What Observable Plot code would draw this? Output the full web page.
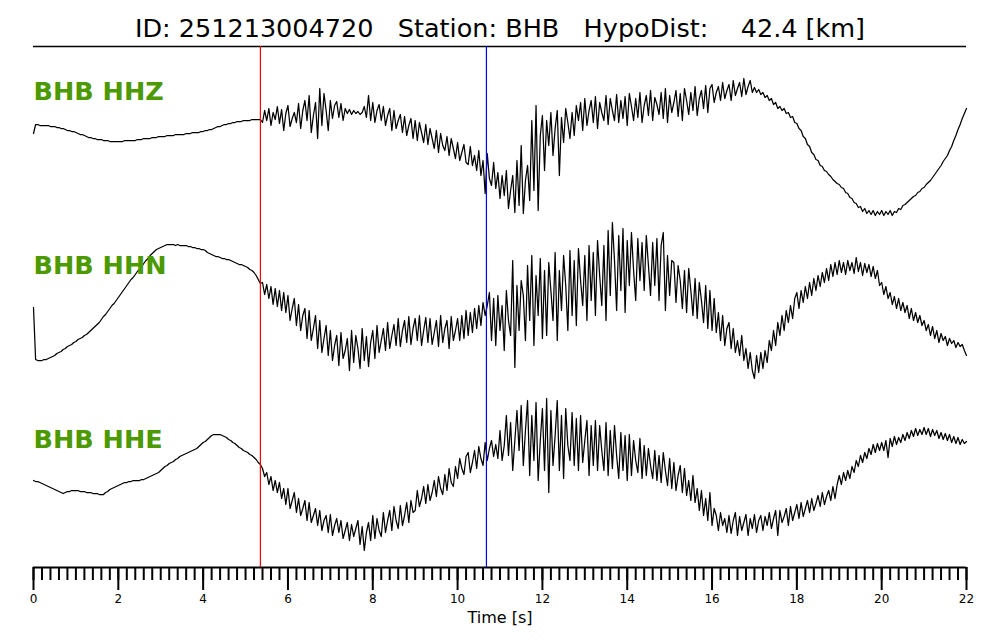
<!DOCTYPE html>
<html><head><meta charset="utf-8">
<script src="https://cdn.jsdelivr.net/npm/d3@7"></script>
<script src="https://cdn.jsdelivr.net/npm/@observablehq/plot@0.6"></script>
<style>
html,body{margin:0;padding:0;background:#fff;}
svg text{white-space:pre;}
</style></head><body><div id="chart"></div>
<script>
const title = "ID: 251213004720   Station: BHB   HypoDist:    42.4 [km]";
const channels = ["BHB HHZ", "BHB HHN", "BHB HHE"];
const sampleInterval = 0.05; // seconds between samples
const pickP = 5.35;
const pickS = 10.68;
const majorTicks = [0, 2, 4, 6, 8, 10, 12, 14, 16, 18, 20, 22];
const timeLabel = "Time [s]";

// amplitudes (arbitrary units, up positive), one row = 1 s
const hhz = [
17,26,26,25,25,25,25,25,24,24,24,23,23,22,22,21,20,20,19,19,
18,17,16,16,15,14,13,13,12,12,11,11,11,10,10,10,9,9,9,9,
9,9,9,10,10,10,10,10,10,11,11,11,12,12,12,12,13,13,13,14,
14,14,14,15,15,15,15,16,16,16,16,16,17,17,17,18,18,18,18,19,
19,20,20,21,21,22,23,24,24,25,26,26,27,27,28,28,29,29,29,30,
30,30,30,31,31,31,31,31,28,40,30,42,25,38,31,44,27,41,20,37,
45,24,32,38,28,47,22,40,50,30,55,18,35,48,12,62,25,57,40,20,
50,32,45,49,33,47,30,42,37,41,36,40,37,39,36,38,44,33,55,30,
48,28,40,46,30,44,25,35,42,20,40,22,30,36,18,34,15,25,32,12,
30,10,28,18,8,26,6,22,12,2,20,-2,17,5,0,14,-5,12,2,-8,
8,-10,-2,6,-12,-14,4,-15,-5,-20,0,-25,-10,-43,-3,-28,-35,-12,-38,-22,
-48,-25,-45,-20,-58,-40,-25,-62,-10,-55,5,-63,-30,-15,-50,30,-40,45,-60,15,
35,-20,30,5,38,-5,22,40,-25,33,8,42,28,12,38,15,45,30,48,20,
52,25,40,50,28,54,22,48,38,30,55,26,52,40,30,56,28,50,32,54,
25,57,44,30,52,33,58,28,45,55,35,60,30,53,46,36,58,32,62,28,
55,38,48,60,34,57,30,62,50,36,58,40,64,35,52,60,42,65,38,62,
66,48,58,64,50,68,52,60,66,50,70,55,62,68,54,72,56,64,70,58,
63,58,61,56,58,53,55,50,52,46,48,42,44,40,42,37,38,33,34,28,
27,22,20,14,12,6,4,-2,-4,-9,-10,-15,-16,-20,-21,-24,-26,-29,-31,-33,
-34,-37,-38,-42,-43,-47,-48,-52,-53,-57,-56,-61,-58,-63,-60,-64,-60,-65,-61,-64,
-60,-65,-61,-64,-60,-65,-61,-62,-58,-59,-55,-54,-52,-50,-48,-46,-45,-42,-41,-38,
-37,-34,-32,-30,-27,-24,-21,-18,-15,-11,-8,-5,0,4,10,15,21,26,32,37,
42];

const hhn = [
-7,-59,-60,-60,-60,-59,-59,-58,-57,-56,-55,-53,-52,-51,-49,-48,-46,-45,-44,-42,
-41,-39,-38,-37,-35,-34,-32,-30,-28,-26,-24,-22,-19,-16,-14,-11,-8,-5,-3,0,
3,6,9,12,15,18,21,23,26,29,31,34,37,40,42,45,47,49,51,52,
53,54,55,56,56,56,56,55,56,55,55,55,55,54,54,53,53,52,52,51,
51,50,48,47,46,45,44,44,43,42,42,41,41,40,39,38,37,36,36,35,
34,33,31,30,28,25,21,17,18,6,16,2,14,-4,12,-6,10,-10,8,-12,
5,-20,-8,2,-25,-4,-30,-15,-8,-38,-10,-40,-28,-15,-48,-20,-52,-38,-25,-55,
-30,-60,-45,-35,-65,-32,-58,-50,-38,-70,-30,-62,-35,-48,-68,-28,-60,-36,-66,-42,
-30,-58,-25,-52,-40,-28,-50,-22,-48,-35,-24,-45,-18,-46,-30,-20,-42,-16,-44,-28,
-18,-40,-15,-45,-30,-17,-42,-18,-44,-32,-20,-46,-15,-42,-28,-20,-48,-16,-40,-30,
-18,-40,-15,-38,-10,-35,-12,-32,-8,-28,-5,-25,-2,-15,-5,8,-40,2,-45,5,
-30,-5,-50,10,-20,-35,40,-67,15,-30,20,5,-40,35,-20,45,-45,25,-15,42,
-38,30,-35,38,10,-20,48,-40,30,-10,45,15,-30,50,-15,40,-25,52,20,-5,
45,-20,55,0,48,-15,60,25,-5,55,-20,70,5,78,40,-10,65,10,72,-12,
60,15,68,30,0,62,20,58,10,65,35,5,58,15,62,0,55,68,-10,45,
5,40,38,-2,35,20,-8,30,-12,32,10,-15,22,-18,18,0,-22,15,-28,10,
-30,2,-32,-12,-40,-15,-45,-28,-22,-48,-28,-52,-40,-55,-35,-60,-48,-68,-52,-70,
-78,-55,-72,-52,-68,-50,-62,-40,-50,-30,-45,-22,-35,-15,-30,-10,-22,-5,-18,2,
8,-8,10,-2,14,2,18,5,22,10,25,14,28,18,32,20,36,24,38,26,
40,28,38,26,40,30,38,27,43,29,38,25,37,28,36,24,34,22,30,15,
18,6,14,2,8,-4,4,-8,2,-10,-2,-12,-5,-18,-8,-20,-12,-22,-15,-25,
-20,-30,-24,-35,-26,-38,-30,-42,-33,-40,-36,-45,-38,-43,-40,-47,-42,-46,-44,-50,
-55];

const hhe = [
-10,-11,-11,-12,-13,-14,-15,-16,-17,-18,-19,-20,-21,-22,-23,-22,-21,-21,-20,-20,
-20,-20,-21,-21,-21,-22,-22,-22,-23,-23,-23,-24,-24,-24,-22,-21,-19,-18,-17,-16,
-15,-14,-13,-12,-12,-11,-11,-10,-10,-10,-10,-9,-9,-8,-7,-6,-5,-4,-3,-2,
0,2,4,5,7,8,9,11,12,14,15,16,17,18,19,20,21,22,24,26,
28,29,31,33,35,36,36,36,36,35,34,33,31,30,28,27,25,23,22,20,
19,18,16,15,13,11,8,6,2,-6,-2,-14,-6,-20,-10,-22,-12,-28,-18,-34,
-18,-38,-30,-22,-42,-28,-45,-38,-30,-50,-32,-52,-45,-38,-55,-40,-60,-50,-45,-62,
-44,-65,-55,-48,-62,-50,-68,-60,-52,-70,-54,-66,-58,-50,-74,-56,-80,-62,-52,-70,
-45,-68,-48,-60,-66,-42,-62,-50,-40,-60,-36,-50,-58,-35,-55,-45,-32,-52,-30,-42,
-40,-20,-36,-28,-16,-33,-14,-30,-22,-10,-26,-6,-18,-24,-4,-20,2,-12,-16,4,
-8,12,2,-4,14,18,-2,8,20,2,24,12,5,28,10,22,30,14,26,12,
40,10,25,55,15,48,0,30,60,20,65,5,40,70,-5,55,10,68,-10,30,
62,0,72,-22,60,5,35,70,0,55,-8,62,25,10,58,5,52,0,55,8,
30,50,-5,45,5,50,0,45,20,0,48,-5,40,2,45,15,-8,38,0,35,
-10,36,-5,30,10,-2,32,-8,25,-5,22,5,-8,20,-10,15,-12,18,0,-15,
12,-18,8,-20,-5,5,-22,2,-25,-10,-30,-5,-32,-18,-40,-20,-45,-28,-50,-22,
-55,-38,-45,-60,-42,-55,-48,-62,-45,-63,-50,-42,-65,-46,-60,-52,-44,-65,-48,-58,
-44,-62,-50,-45,-60,-46,-55,-42,-58,-48,-40,-65,-40,-52,-46,-38,-55,-36,-50,-42,
-34,-48,-32,-46,-38,-30,-42,-28,-40,-33,-25,-36,-22,-34,-26,-20,-30,-16,-28,-14,
-5,-14,-2,-10,0,-8,4,-2,10,4,15,8,18,12,22,16,26,18,27,20,
28,20,30,13,32,24,34,26,33,28,36,30,38,32,40,34,42,35,41,36,
43,36,42,34,41,35,40,32,38,31,37,30,36,28,34,27,33,26,31,27,
29];

// layout (vertical stacking of traces)
const traces = [hhz, hhn, hhe];
const offsets = [417, 267, 97];
const labelY = [476, 302, 128];
const frameTop = 521;

const rows = traces.flatMap((arr, k) => arr.map((v, i) => ({channel: channels[k], t: i * sampleInterval, y: offsets[k] + v})));
const minorTicks = d3.range(0, 111).map(i => i / 5);

const chart = Plot.plot({
  width: 1000, height: 640,
  marginLeft: 33, marginRight: 34, marginTop: 46, marginBottom: 73,
  style: {fontFamily: "DejaVu Sans", background: "#fff", color: "#000"},
  x: {domain: [0, 22]},
  y: {domain: [0, frameTop], axis: null},
  marks: [
    Plot.axisX({ticks: minorTicks, tickSize: 13, tickFormat: () => "", strokeWidth: 2, label: null}),
    Plot.axisX({ticks: majorTicks, tickSize: 23, tickPadding: 4, strokeWidth: 2, fontSize: 12, label: null}),
    Plot.ruleY([0], {stroke: "#000", strokeWidth: 2}),
    Plot.ruleY([frameTop], {stroke: "#000", strokeWidth: 1.5}),
    Plot.line(rows, {x: "t", y: "y", z: "channel", stroke: "#000", strokeWidth: 1.25}),
    Plot.ruleX([pickP], {y1: 0, y2: frameTop, stroke: "#ff0000", strokeWidth: 1.2}),
    Plot.ruleX([pickS], {y1: 0, y2: frameTop, stroke: "#0000ff", strokeWidth: 1.2}),
    Plot.text(channels, {x: 0, y: (d, i) => labelY[i], text: d => d, textAnchor: "start", lineAnchor: "middle", fontWeight: "bold", fontSize: 25.5, fill: "#4c9900"}),
    Plot.text([title], {frameAnchor: "top", lineAnchor: "middle", dy: -17.5, fontSize: 25.5, fill: "#000"}),
    Plot.text([timeLabel], {frameAnchor: "bottom", lineAnchor: "middle", dy: 50, fontSize: 16, fill: "#000"})
  ]
});
document.getElementById("chart").appendChild(chart);
</script>
</body></html>
